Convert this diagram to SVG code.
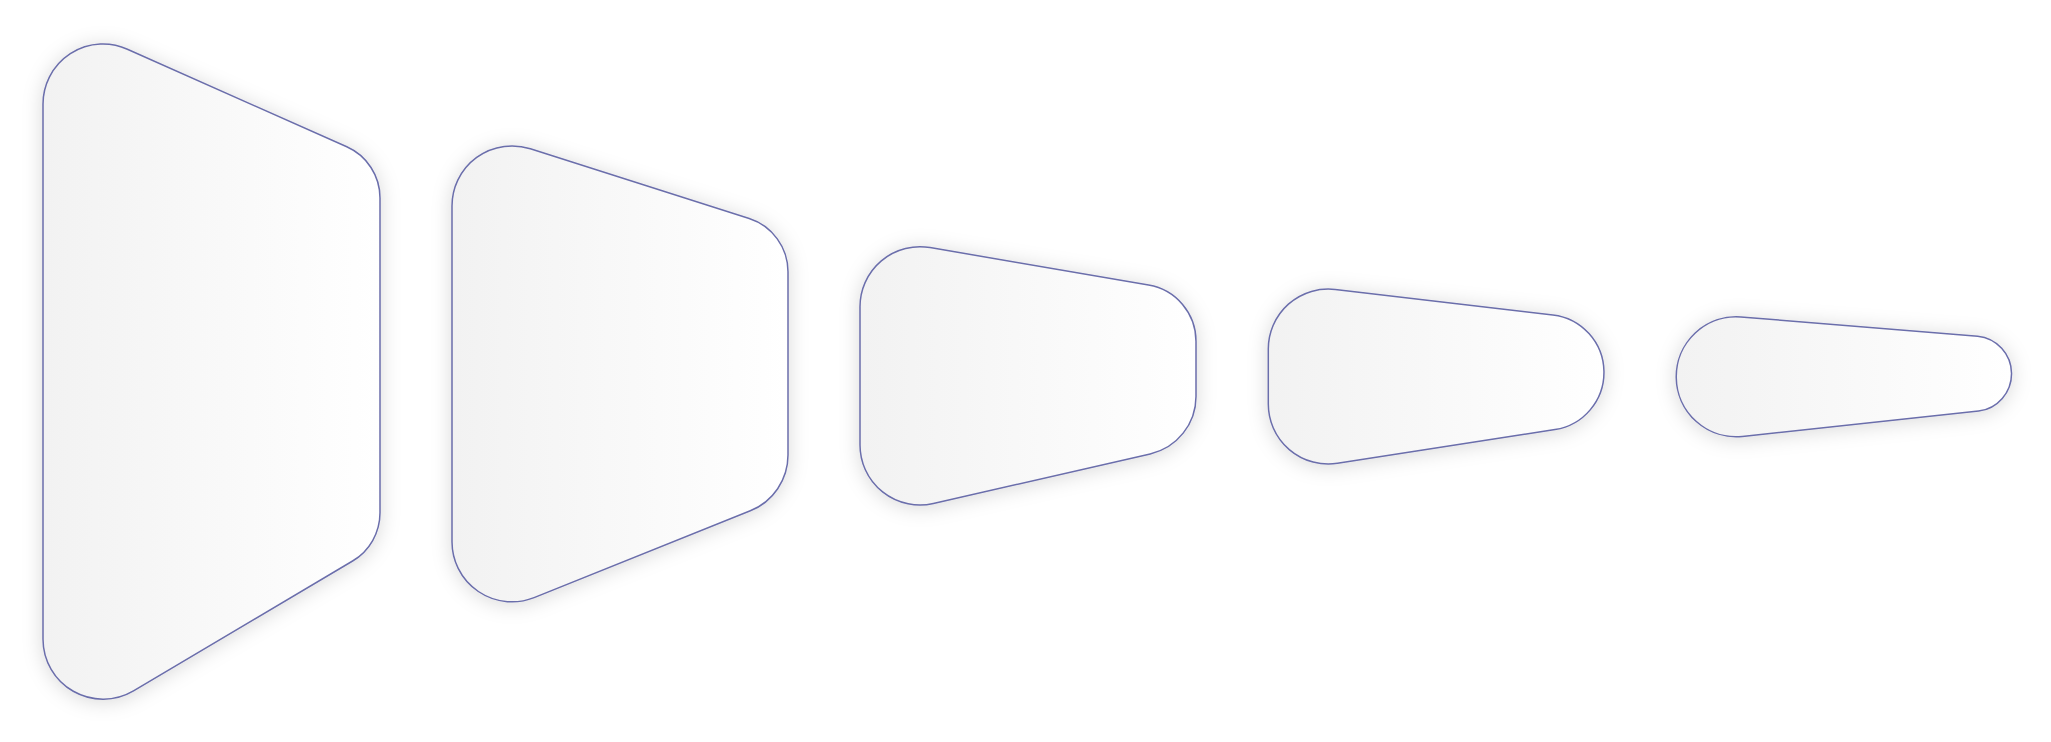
<svg xmlns="http://www.w3.org/2000/svg" width="2051" height="742" viewBox="0 0 2051 742">
  <style>
    .stage { fill: url(#stageFill); stroke: #6b6eab; stroke-width: 1.5; stroke-linejoin: round; filter: url(#softShadow); }
  </style>
  <defs>
    <linearGradient id="stageFill" x1="0" y1="0" x2="1" y2="0">
      <stop offset="0" stop-color="#f2f2f2"/>
      <stop offset="1" stop-color="#ffffff"/>
    </linearGradient>
    <filter id="softShadow" x="-25%" y="-25%" width="150%" height="150%">
      <feDropShadow dx="0" dy="2" stdDeviation="10" flood-color="#000000" flood-opacity="0.15"/>
    </filter>
  </defs>
  <rect width="2051" height="742" fill="#ffffff"/>
  <g id="connectors"/>
  <g id="stage1">
    <path class="stage" d="M 43 104 A 60 60 0 0 1 127.4 49.2 L 346.8 146.8 A 56 56 0 0 1 380 198 L 380 512.8 A 56 56 0 0 1 352.6 561 L 133.5 690.8 A 60 60 0 0 1 43 639.2 Z"/>
  </g>
  <g id="stage2">
    <path class="stage" d="M 452 205.9 A 60 60 0 0 1 530.4 148.8 L 749.2 218.5 A 56 56 0 0 1 788 271.8 L 788 455.1 A 60 60 0 0 1 750.3 510.8 L 534.1 597.6 A 60 60 0 0 1 452 542 Z"/>
  </g>
  <g id="stage3">
    <path class="stage" d="M 860 306.7 A 60 60 0 0 1 930.1 247.6 L 1148.6 285 A 57 57 0 0 1 1196 341.2 L 1196 396.4 A 59 59 0 0 1 1150.2 453.9 L 933.4 503.5 A 60 60 0 0 1 860 445 Z"/>
  </g>
  <g id="stage4">
    <path class="stage" d="M 1268.3 349 A 60 60 0 0 1 1335.3 289.4 L 1552.9 314.9 A 57.9 57.9 0 0 1 1555 429.6 L 1337.5 463.3 A 60 60 0 0 1 1268.3 404 Z"/>
  </g>
  <g id="stage5">
    <path class="stage" d="M 1740.9 316.9 L 1977.7 336.2 A 37.7 37.7 0 0 1 1978.6 411.1 L 1742.4 436.4 A 60 60 0 1 1 1740.9 316.9 Z"/>
  </g>
</svg>
